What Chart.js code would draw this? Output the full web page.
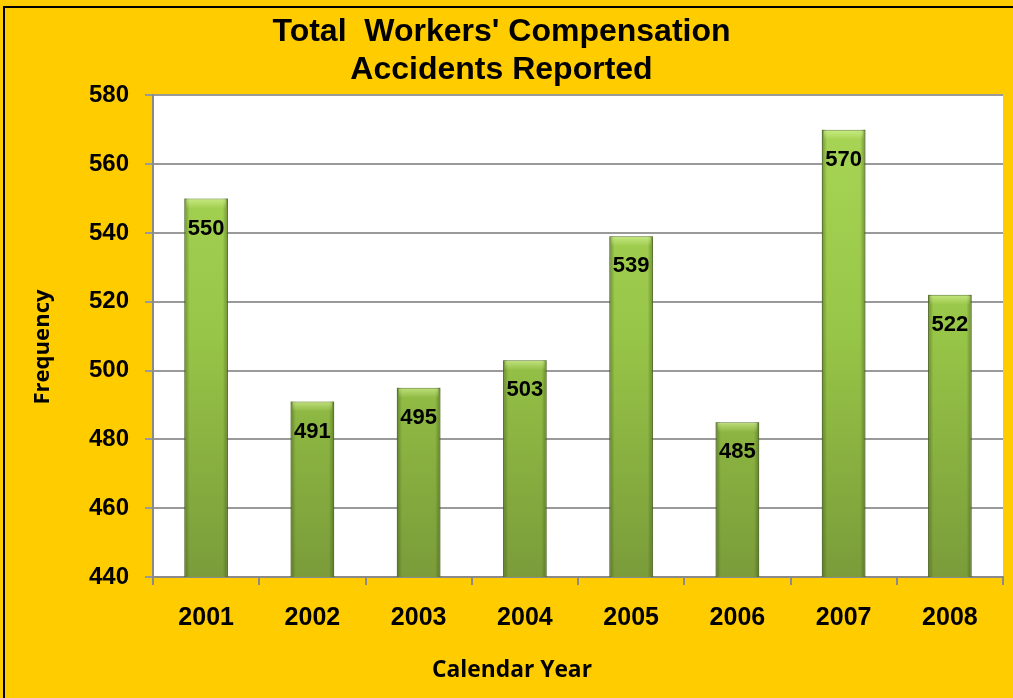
<!DOCTYPE html>
<html><head><meta charset="utf-8">
<script src="https://cdn.jsdelivr.net/npm/chart.js@4/dist/chart.umd.min.js"></script>
<style>html,body{margin:0;padding:0;background:#FFCC00;}#wrap{width:1013px;height:698px;}</style>
</head><body><div id="wrap"><canvas id="c" width="1013" height="698"></canvas></div>
<script>
const categories = ['2001','2002','2003','2004','2005','2006','2007','2008'];
const accidents = [550, 491, 495, 503, 539, 485, 570, 522];
const titleLines = ["Total  Workers' Compensation", "Accidents Reported"];
const yTitle = 'Frequency';
const xTitle = 'Calendar Year';

const bgPlugin = {
  id: 'bg',
  beforeDraw(chart) {
    const ctx = chart.ctx, a = chart.chartArea;
    ctx.save();
    ctx.fillStyle = '#FFCC00';
    ctx.fillRect(0, 0, chart.width, chart.height);
    ctx.fillStyle = '#000';
    ctx.fillRect(3, 6, chart.width - 3, 2);
    ctx.fillRect(3, 6, 2, chart.height - 6);
    ctx.fillStyle = '#FFFFFF';
    ctx.fillRect(a.left, a.top, a.right - a.left, a.bottom - a.top);
    ctx.restore();
  }
};

function fitFont(ctx, text, family, targetW) {
  ctx.font = 'bold 20px ' + family;
  const w = ctx.measureText(text).width;
  return 20 * targetW / w;
}

const axisTitlePlugin = {
  id: 'axisTitles',
  afterDraw(chart) {
    const ctx = chart.ctx;
    const fam = '"Open Sans", Lato, sans-serif';
    ctx.save();
    ctx.fillStyle = '#000';
    ctx.textAlign = 'center';
    ctx.textBaseline = 'middle';
    let s = fitFont(ctx, xTitle, fam, 160);
    ctx.font = 'bold ' + s.toFixed(1) + 'px ' + fam;
    ctx.fillText(xTitle, 512, 671);
    s = fitFont(ctx, yTitle, fam, 115);
    ctx.font = 'bold ' + s.toFixed(1) + 'px ' + fam;
    ctx.translate(43, 347);
    ctx.rotate(-Math.PI / 2);
    ctx.fillText(yTitle, 0, 0);
    ctx.restore();
  }
};

const labelPlugin = {
  id: 'vals',
  afterDatasetsDraw(chart) {
    const ctx = chart.ctx;
    const meta = chart.getDatasetMeta(0);
    const a = chart.chartArea;
    ctx.save();
    ctx.beginPath();
    ctx.rect(a.left, a.top, a.right - a.left, a.bottom - a.top);
    ctx.clip();
    meta.data.forEach((el) => {
      const w = el.width, x0 = el.x - w / 2, top = el.y, h = a.bottom - el.y;
      const g = ctx.createLinearGradient(x0, 0, x0 + w, 0);
      g.addColorStop(0, 'rgba(50,70,15,0.45)');
      g.addColorStop(0.12, 'rgba(50,70,15,0.0)');
      g.addColorStop(0.88, 'rgba(50,70,15,0.0)');
      g.addColorStop(1, 'rgba(50,70,15,0.45)');
      ctx.fillStyle = g;
      ctx.fillRect(x0, top, w, h);
      const gt = ctx.createLinearGradient(0, top, 0, top + 10);
      gt.addColorStop(0, 'rgba(230,255,170,0.55)');
      gt.addColorStop(1, 'rgba(230,255,170,0)');
      ctx.fillStyle = gt;
      ctx.fillRect(x0 + 2, top + 1, w - 4, 10);
    });
    ctx.restore();
    ctx.save();
    ctx.font = 'bold 22px "Liberation Sans", Arial, sans-serif';
    ctx.fillStyle = '#000';
    ctx.textAlign = 'center';
    ctx.textBaseline = 'middle';
    meta.data.forEach((el, i) => {
      ctx.fillText(String(chart.data.datasets[0].data[i]), el.x, el.y + 30);
    });
    ctx.restore();
  }
};

function barFill(context) {
  const chart = context.chart;
  const a = chart.chartArea;
  if (!a) return '#8fbc45';
  const g = chart.ctx.createLinearGradient(0, a.top, 0, a.bottom);
  g.addColorStop(0, '#aad757');
  g.addColorStop(0.5, '#97c547');
  g.addColorStop(1, '#7a9c3a');
  return g;
}

new Chart(document.getElementById('c'), {
  type: 'bar',
  data: {
    labels: categories,
    datasets: [{
      data: accidents,
      backgroundColor: barFill,
      borderColor: '#5a7828',
      borderWidth: 1,
      barPercentage: 0.82,
      categoryPercentage: 0.5
    }]
  },
  options: {
    responsive: false,
    animation: false,
    layout: { padding: { left: 0, right: 10, top: 0, bottom: 0 } },
    plugins: {
      legend: { display: false },
      tooltip: { enabled: false },
      title: {
        display: true,
        text: titleLines,
        color: '#000',
        font: { family: '"Liberation Sans", Arial, sans-serif', size: 32, weight: 'bold', lineHeight: 1.16 },
        padding: { top: 14, bottom: 7 }
      }
    },
    scales: {
      x: {
        grid: { offset: true, drawOnChartArea: false, tickLength: 8, color: '#8a8a8a', lineWidth: 2 },
        border: { color: '#8a8a8a', width: 2 },
        ticks: { color: '#000', font: { family: '"Liberation Sans", Arial, sans-serif', size: 25, weight: 'bold' }, padding: 18 },
        afterFit(s) { s.height = 121; }
      },
      y: {
        min: 440, max: 580,
        ticks: { stepSize: 20, color: '#000', font: { family: '"Liberation Sans", Arial, sans-serif', size: 24, weight: 'bold' }, padding: 16 },
        grid: { color: '#9a9a9a', lineWidth: 2, tickLength: 8 },
        border: { color: '#8a8a8a', width: 2 },
        afterFit(s) { s.width = 153; }
      }
    }
  },
  plugins: [bgPlugin, labelPlugin, axisTitlePlugin]
});
</script></body></html>
